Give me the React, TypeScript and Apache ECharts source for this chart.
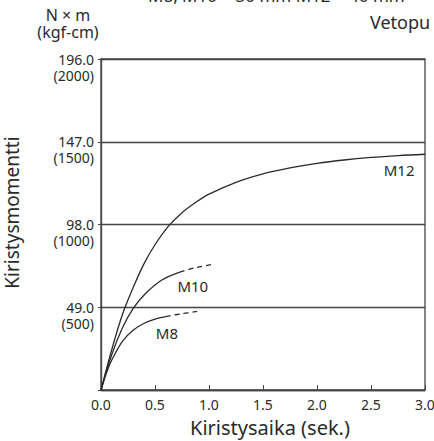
import React, { useEffect, useRef } from "react";
import * as echarts from "echarts";

const yTicks = [0, 49, 98, 147, 196];
const yTickKgf = ["", "(500)", "(1000)", "(1500)", "(2000)"];

const m12Data: [number, number][] = [
  [0, 0], [0.1, 24], [0.2, 45], [0.3, 61], [0.4, 75], [0.5, 86], [0.625, 97],
  [0.75, 105], [0.875, 111], [1.0, 116], [1.25, 123], [1.5, 128], [1.75, 131.5],
  [2.0, 134.2], [2.25, 136.2], [2.5, 137.7], [2.75, 138.8], [3.0, 139.6],
];
const m10Solid: [number, number][] = [
  [0, 0], [0.1, 21], [0.2, 37], [0.3, 48.5], [0.41, 57], [0.56, 65], [0.73, 69.8],
];
const m10Dashed: [number, number][] = [[0.73, 69.8], [0.88, 72.5], [1.04, 74.4]];
const m8Solid: [number, number][] = [
  [0, 0], [0.05, 10], [0.1, 17.8], [0.2, 29], [0.3, 35.5], [0.4, 39.5], [0.5, 42], [0.6, 43.5],
];
const m8Dashed: [number, number][] = [[0.6, 43.5], [0.75, 45.2], [0.89, 46.5]];

const seriesLabels = [
  { name: "M12", coord: [2.76, 130.3] },
  { name: "M10", coord: [0.85, 61.6] },
  { name: "M8", coord: [0.61, 34] },
];

const FONT = "'Noto Sans', 'DejaVu Sans', sans-serif";
const INK = "#2a2a2a";

export default function App() {
  const ref = useRef<HTMLDivElement>(null);
  useEffect(() => {
    document.body.style.margin = "0";
    const chart = echarts.init(ref.current!, undefined, { renderer: "svg" });
    const lineStyle = { color: INK, width: 1.3 };
    const mkLabel = (name: string) => {
      const l = seriesLabels.find((s) => s.name === name)!;
      return {
        silent: true,
        symbol: "circle",
        symbolSize: 0,
        label: {
          show: true,
          formatter: name,
          position: "inside",
          color: INK,
          fontSize: 15,
          fontFamily: FONT,
        },
        data: [{ coord: l.coord }],
      };
    };
    const lineBase = {
      type: "line",
      smooth: 0.35,
      showSymbol: false,
    };
    chart.setOption({
      animation: false,
      grid: {
        left: 101,
        right: 9,
        top: 59,
        bottom: 51,
        show: true,
        borderColor: "#444",
        borderWidth: 1.3,
        outerBoundsMode: "none",
        containLabel: false,
      },
      xAxis: {
        type: "value",
        min: 0,
        max: 3,
        interval: 0.5,
        name: "Kiristysaika (sek.)",
        nameLocation: "middle",
        nameGap: 27,
        nameTextStyle: { fontSize: 20, color: INK, fontFamily: FONT, padding: [0, 0, 0, 14] },
        axisLine: { show: true, lineStyle: { color: "#444", width: 1.3 } },
        axisTick: { show: true, inside: true, length: 5, lineStyle: { color: "#444" } },
        splitLine: { show: false },
        axisLabel: {
          margin: 7,
          fontSize: 14,
          color: INK,
          fontFamily: FONT,
          hideOverlap: false,
          formatter: (v: number) => v.toFixed(1),
        },
      },
      yAxis: {
        type: "value",
        min: 0,
        max: 196,
        interval: 49,
        name: "Kiristysmomentti",
        nameLocation: "middle",
        nameGap: 80,
        nameTextStyle: { fontSize: 19, color: INK, fontFamily: FONT, padding: [0, 0, 0, 24] },
        axisLine: { show: true, lineStyle: { color: "#444", width: 1.3 } },
        axisTick: { show: true, length: 3, lineStyle: { color: "#444" } },
        splitLine: { show: true, lineStyle: { color: "#444", width: 1.3 } },
        axisLabel: {
          margin: 7,
          fontSize: 14,
          lineHeight: 16,
          color: INK,
          fontFamily: FONT,
          formatter: (v: number) => {
            const i = yTicks.indexOf(v);
            if (i <= 0) return "";
            return " \n" + v.toFixed(1) + "\n" + yTickKgf[i];
          },
        },
      },
      graphic: [
        {
          type: "text",
          x: 68,
          y: 6,
          style: {
            text: "N × m\n(kgf-cm)",
            fontSize: 16,
            lineHeight: 17,
            fill: INK,
            fontFamily: FONT,
            align: "center",
          },
        },
        {
          type: "text",
          x: 370,
          y: 13,
          style: { text: "Vetopu", fontSize: 18, fill: INK, fontFamily: FONT },
        },
        {
          type: "text",
          x: 148,
          y: -13,
          style: { text: "M8, M10 × 30 mm M12 × 40 mm", fontSize: 17, fill: INK, fontFamily: FONT },
        },
      ],
      series: [
        { ...lineBase, name: "M12", data: m12Data, lineStyle, markPoint: mkLabel("M12") },
        { ...lineBase, name: "M10", data: m10Solid, lineStyle, markPoint: mkLabel("M10") },
        { ...lineBase, name: "M10 ext", data: m10Dashed, lineStyle: { ...lineStyle, type: [5, 4] } },
        { ...lineBase, name: "M8", data: m8Solid, lineStyle, markPoint: mkLabel("M8") },
        { ...lineBase, name: "M8 ext", data: m8Dashed, lineStyle: { ...lineStyle, type: [5, 4] } },
      ],
    });
    return () => chart.dispose();
  }, []);
  return <div ref={ref} style={{ width: 434, height: 441 }} />;
}
